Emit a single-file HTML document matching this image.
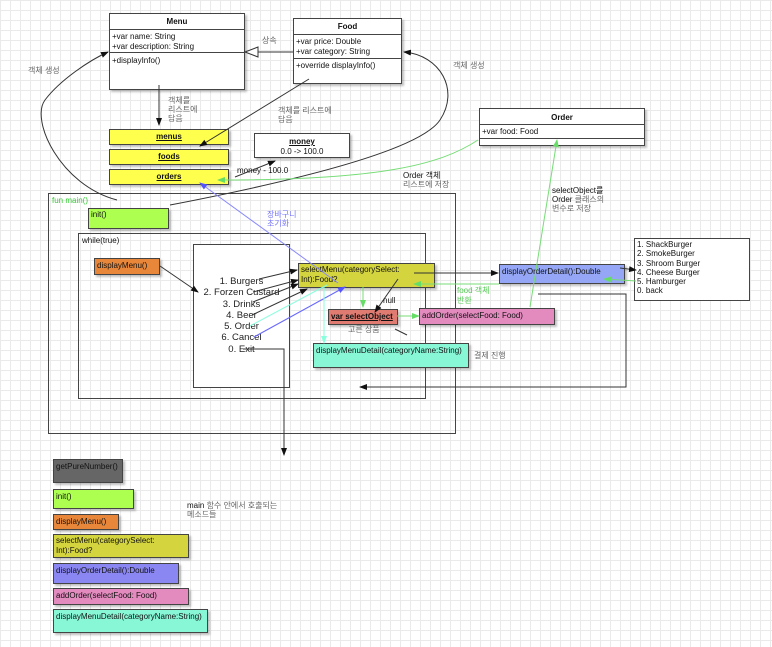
<!DOCTYPE html>
<html><head><meta charset="utf-8"><style>
body{margin:0;width:772px;height:647px;overflow:hidden;background-color:#fff;
background-image:linear-gradient(#eaeaea 1px,transparent 1px),linear-gradient(90deg,#eaeaea 1px,transparent 1px);background-size:10px 10px;
font-family:"Liberation Sans","Noto Sans CJK KR",sans-serif;font-size:8px;color:#111;position:relative}
.b{position:absolute;box-sizing:border-box;border:1.3px solid #444;background:#fff}
.t{position:absolute;white-space:nowrap;line-height:10px}
.g{color:#666}
.u{text-decoration:underline;font-weight:bold;text-align:center}
.sh{box-shadow:2px 2px 2px rgba(0,0,0,.25)}
</style></head><body>
<!-- Menu -->
<div class="b sh" style="left:109px;top:13px;width:136px;height:77px"></div>
<div class="t" style="left:109px;top:17px;width:136px;text-align:center;font-weight:bold">Menu</div>
<div style="position:absolute;left:109px;top:29px;width:136px;border-top:1px solid #444"></div>
<div class="t" style="left:112px;top:32px">+var name: String<br>+var description: String</div>
<div style="position:absolute;left:109px;top:52px;width:136px;border-top:1px solid #444"></div>
<div class="t" style="left:112px;top:56px">+displayInfo()</div>
<!-- Food -->
<div class="b sh" style="left:293px;top:18px;width:109px;height:66px"></div>
<div class="t" style="left:293px;top:22px;width:109px;text-align:center;font-weight:bold">Food</div>
<div style="position:absolute;left:293px;top:34px;width:109px;border-top:1px solid #444"></div>
<div class="t" style="left:296px;top:37px">+var price: Double<br>+var category: String</div>
<div style="position:absolute;left:293px;top:58px;width:109px;border-top:1px solid #444"></div>
<div class="t" style="left:296px;top:61px">+override displayInfo()</div>
<!-- Order -->
<div class="b sh" style="left:479px;top:108px;width:166px;height:38px"></div>
<div class="t" style="left:479px;top:113px;width:166px;text-align:center;font-weight:bold">Order</div>
<div style="position:absolute;left:479px;top:124px;width:166px;border-top:1px solid #444"></div>
<div class="t" style="left:482px;top:127px">+var food: Food</div>
<div style="position:absolute;left:479px;top:138px;width:166px;border-top:1px solid #444"></div>
<!-- lists -->
<div class="b sh" style="left:109px;top:129px;width:120px;height:16px;background:#ffff4d"></div>
<div class="t u" style="left:109px;top:132px;width:120px">menus</div>
<div class="b sh" style="left:109px;top:149px;width:120px;height:16px;background:#ffff4d"></div>
<div class="t u" style="left:109px;top:152px;width:120px">foods</div>
<div class="b sh" style="left:109px;top:169px;width:120px;height:16px;background:#ffff4d"></div>
<div class="t u" style="left:109px;top:172px;width:120px">orders</div>
<div class="b sh" style="left:254px;top:133px;width:96px;height:25px"></div>
<div class="t" style="left:254px;top:137px;width:96px;text-align:center"><span style="text-decoration:underline;font-weight:bold">money</span><br>0.0 -&gt; 100.0</div>
<!-- main -->
<div class="b" style="left:48px;top:193px;width:408px;height:241px;background:transparent"></div>
<div class="t" style="left:52px;top:196px;color:#3c3">fun main()</div>
<div class="b sh" style="left:88px;top:208px;width:81px;height:21px;background:#adff50"></div>
<div class="t" style="left:91px;top:210px">init()</div>
<div class="b" style="left:78px;top:233px;width:348px;height:166px;background:transparent"></div>
<div class="t" style="left:82px;top:236px">while(true)</div>
<div class="b sh" style="left:94px;top:258px;width:66px;height:17px;background:#e8873a"></div>
<div class="t" style="left:97px;top:261px">displayMenu()</div>
<div class="b" style="left:193px;top:244px;width:97px;height:144px"></div>
<div class="t" style="left:193px;top:276px;width:97px;text-align:center;font-size:9.5px;line-height:11.3px;color:#222">1. Burgers<br>2. Forzen Custard<br>3. Drinks<br>4. Beer<br>5. Order<br>6. Cancel<br>0. Exit</div>
<div class="b sh" style="left:298px;top:263px;width:137px;height:25px;background:#d4d43f"></div>
<div class="t" style="left:301px;top:265px">selectMenu(categorySelect:<br>Int):Food?</div>
<div class="b sh" style="left:328px;top:309px;width:70px;height:16px;background:#e07b72"></div>
<div class="t" style="left:331px;top:312px;text-decoration:underline;font-weight:bold">var selectObject</div>
<div class="t g" style="left:348px;top:325px">고른 상품</div>
<div class="t" style="left:383px;top:296px">null</div>
<div class="b sh" style="left:419px;top:308px;width:136px;height:17px;background:#e38bbf"></div>
<div class="t" style="left:422px;top:311px">addOrder(selectFood: Food)</div>
<div class="b sh" style="left:313px;top:343px;width:156px;height:25px;background:#88f7d6"></div>
<div class="t" style="left:316px;top:346px">displayMenuDetail(categoryName:String)</div>
<div class="t g" style="left:474px;top:351px">결제 진행</div>
<div class="b sh" style="left:499px;top:264px;width:126px;height:20px;background:#94a6f5"></div>
<div class="t" style="left:502px;top:267px">displayOrderDetail():Double</div>
<div class="t" style="left:457px;top:286px;color:#5c5">food 객체<br>반환</div>
<div class="b" style="left:634px;top:238px;width:116px;height:63px"></div>
<div class="t" style="left:637px;top:240px;line-height:9.3px">1. ShackBurger<br>2. SmokeBurger<br>3. Shroom Burger<br>4. Cheese Burger<br>5. Hamburger<br>0. back</div>
<!-- labels -->
<div class="t g" style="left:262px;top:36px">상속</div>
<div class="t g" style="left:28px;top:66px">객체 생성</div>
<div class="t g" style="left:453px;top:61px">객체 생성</div>
<div class="t g" style="left:168px;top:96px;line-height:9px">객체를<br>리스트에<br>담음</div>
<div class="t g" style="left:278px;top:106px;line-height:9px">객체를 리스트에<br>담음</div>
<div class="t" style="left:237px;top:166px">money - 100.0</div>
<div class="t" style="left:403px;top:171px;line-height:9px">Order 객체<br><span class="g">리스트에 저장</span></div>
<div class="t" style="left:552px;top:186px;line-height:9px">selectObject를<br>Order <span class="g">클래스의<br>변수로 저장</span></div>
<div class="t" style="left:267px;top:210px;line-height:9px;color:#77f">장바구니<br>초기화</div>
<!-- legend -->
<div class="b sh" style="left:53px;top:459px;width:70px;height:24px;background:#666"></div>
<div class="t" style="left:56px;top:462px">getPureNumber()</div>
<div class="b sh" style="left:53px;top:489px;width:81px;height:20px;background:#adff50"></div>
<div class="t" style="left:56px;top:492px">init()</div>
<div class="b sh" style="left:53px;top:514px;width:66px;height:16px;background:#e8873a"></div>
<div class="t" style="left:56px;top:517px">displayMenu()</div>
<div class="b sh" style="left:53px;top:534px;width:136px;height:24px;background:#d4d43f"></div>
<div class="t" style="left:56px;top:536px">selectMenu(categorySelect:<br>Int):Food?</div>
<div class="b sh" style="left:53px;top:563px;width:126px;height:21px;background:#8a86f2"></div>
<div class="t" style="left:56px;top:566px">displayOrderDetail():Double</div>
<div class="b sh" style="left:53px;top:588px;width:136px;height:17px;background:#e38bbf"></div>
<div class="t" style="left:56px;top:591px">addOrder(selectFood: Food)</div>
<div class="b sh" style="left:53px;top:609px;width:155px;height:24px;background:#88f7d6"></div>
<div class="t" style="left:56px;top:612px">displayMenuDetail(categoryName:String)</div>
<div class="t" style="left:187px;top:501px;line-height:9px">main <span class="g">함수 안에서 호출되는<br>메소드들</span></div>
<svg width="772" height="647" style="position:absolute;left:0;top:0" fill="none" stroke-width="1">
<defs>
<marker id="k" markerWidth="8" markerHeight="8" refX="7" refY="4" orient="auto" markerUnits="userSpaceOnUse"><path d="M0,1L8,4L0,7z" fill="#111"/></marker>
<marker id="gr" markerWidth="8" markerHeight="8" refX="7" refY="4" orient="auto" markerUnits="userSpaceOnUse"><path d="M0,1L8,4L0,7z" fill="#6d6"/></marker>
<marker id="bl" markerWidth="8" markerHeight="8" refX="7" refY="4" orient="auto" markerUnits="userSpaceOnUse"><path d="M0,1L8,4L0,7z" fill="#55f"/></marker>
<marker id="cy" markerWidth="8" markerHeight="8" refX="7" refY="4" orient="auto" markerUnits="userSpaceOnUse"><path d="M0,1L8,4L0,7z" fill="#8fd"/></marker>
</defs>
<g stroke="#333">
<path d="M293,52H258"/><path d="M258,47L245,52L258,57z" fill="#fff"/>
<path d="M159,85V125" marker-end="url(#k)"/>
<path d="M309,79L200,146" marker-end="url(#k)"/>
<path d="M117,200C60,185 30,120 45,100C60,80 90,60 108,52" marker-end="url(#k)"/>
<path d="M170,205C300,180 420,150 440,120C460,90 440,55 404,52" marker-end="url(#k)"/>
<path d="M235,177L275,161" marker-end="url(#k)"/>
<path d="M160,266L198,292" marker-end="url(#k)"/>
<path d="M259,279L297,270" marker-end="url(#k)"/>
<path d="M253,292L298,280" marker-end="url(#k)"/>
<path d="M253,302L298,284" marker-end="url(#k)"/>
<path d="M252,315L307,289" marker-end="url(#k)"/>
<path d="M243,349H284V455" marker-end="url(#k)"/>
<path d="M414,273H498" marker-end="url(#k)"/>
<path d="M398,279L375,312" marker-end="url(#k)"/>
<path d="M395,329L407,335"/>
<path d="M620,268L636,270" marker-end="url(#k)"/>
<path d="M538,294H626V387H360" marker-end="url(#k)"/>
</g>
<path d="M478,140C440,165 380,180 218,180" stroke="#7d7" marker-end="url(#gr)"/>
<path d="M530,307L557,140" stroke="#7d7" marker-end="url(#gr)"/>
<path d="M363,287V307" stroke="#7d7" marker-end="url(#gr)"/>
<path d="M397,316H419" stroke="#7d7" marker-end="url(#gr)"/>
<path d="M499,284H414" stroke="#7d7" marker-end="url(#gr)"/>
<path d="M636,281L604,279" stroke="#7d7" marker-end="url(#gr)"/>
<path d="M338,283L200,183" stroke="#88f" marker-end="url(#bl)"/>
<path d="M254,337L345,287" stroke="#66f" marker-end="url(#bl)"/>
<path d="M250,326L327,285" stroke="#8fd"/>
<path d="M324,287V343" stroke="#8fd" marker-end="url(#cy)"/>
</svg>
</body></html>
